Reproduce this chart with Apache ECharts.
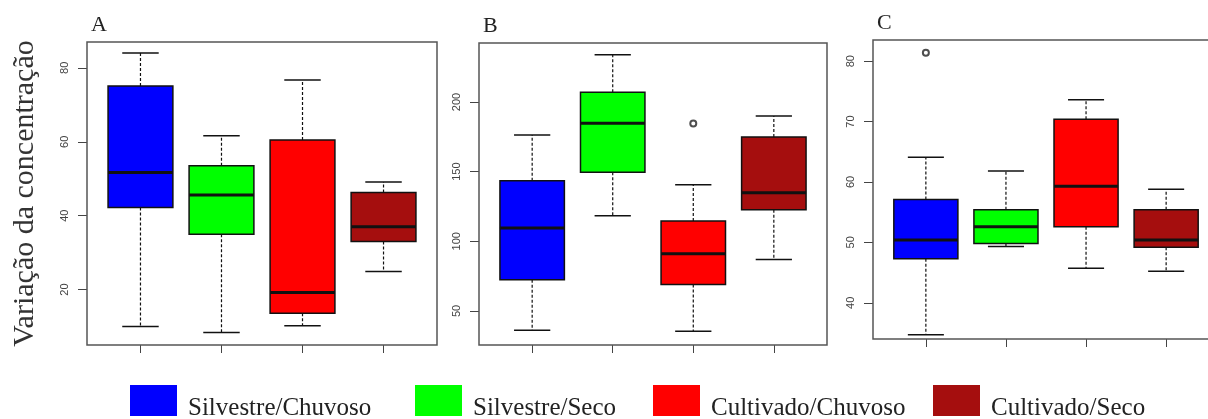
<!DOCTYPE html>
<html><head><meta charset="utf-8">
<script src="https://cdn.jsdelivr.net/npm/echarts@6/dist/echarts.min.js"></script>
<style>html,body{margin:0;padding:0;background:#fff}#c{width:1208px;height:419px}</style>
</head><body><div id="c"></div>
<script>
// ---- data (five-number summaries: [min, Q1, median, Q3, max]) ----
const groups = ['Silvestre/Chuvoso', 'Silvestre/Seco', 'Cultivado/Chuvoso', 'Cultivado/Seco'];
const colors = ['#0000FF', '#00FF00', '#FF0000', '#A50E0E'];
const panelLabels = ['A', 'B', 'C'];

const boxA = [
  [10.0, 42.2, 51.7, 75.1, 84.0],
  [8.4, 35.0, 45.6, 53.5, 61.6],
  [10.2, 13.6, 19.2, 60.5, 76.7],
  [24.9, 33.0, 37.0, 46.3, 49.1]
];
const boxB = [
  [36.2, 72.4, 109.6, 143.4, 176.2],
  [118.4, 149.6, 184.8, 206.9, 233.8],
  [35.5, 69.1, 91.0, 114.5, 140.5],
  [86.9, 122.6, 134.8, 174.8, 190.0]
];
const boxC = [
  [34.7, 47.3, 50.4, 57.1, 64.1],
  [49.3, 49.8, 52.6, 55.4, 61.8],
  [45.7, 52.6, 59.3, 70.4, 73.6],
  [45.2, 49.2, 50.4, 55.4, 58.8]
];
// outliers: [group index, value]
const outliersA = [];
const outliersB = [[2, 184.6]];
const outliersC = [[0, 81.4]];

const ticksA = [20, 40, 60, 80];
const ticksB = [50, 100, 150, 200];
const ticksC = [40, 50, 60, 70, 80];

const rangeA = [5.0, 87.0];
const rangeB = [25.6, 242.3];
const rangeC = [34.0, 83.5];

// ---- layout ----
const panels = [
  { box: boxA, out: outliersA, ticks: ticksA, range: rangeA, frame: { x: 87, y: 42, w: 350, h: 303 } },
  { box: boxB, out: outliersB, ticks: ticksB, range: rangeB, frame: { x: 479, y: 43, w: 348, h: 302 } },
  { box: boxC, out: outliersC, ticks: ticksC, range: rangeC, frame: { x: 873, y: 40, w: 346, h: 299 } }
];
const PAD_FRAC = 0.16 / 4.32; // R-style 4% axis expansion around 0.5..4.5

function renderBox(params, api) {
  const x = api.value(0);
  const p = [1, 2, 3, 4, 5].map(i => api.coord([x, api.value(i)]));
  const [mn, q1, md, q3, mx] = p;
  const band = api.size([1, 0])[0];
  const cx = mn[0];
  const hb = band * 0.4, hc = band * 0.225;
  const color = api.visual('color');
  const dash = { stroke: '#111', lineWidth: 1.2, lineDash: [3, 2] };
  const solid = { stroke: '#111', lineWidth: 1.5 };
  return {
    type: 'group',
    children: [
      { type: 'line', shape: { x1: cx, y1: q3[1], x2: cx, y2: mx[1] }, style: dash },
      { type: 'line', shape: { x1: cx, y1: q1[1], x2: cx, y2: mn[1] }, style: dash },
      { type: 'line', shape: { x1: cx - hc, y1: mx[1], x2: cx + hc, y2: mx[1] }, style: solid },
      { type: 'line', shape: { x1: cx - hc, y1: mn[1], x2: cx + hc, y2: mn[1] }, style: solid },
      { type: 'rect', shape: { x: cx - hb, y: q3[1], width: 2 * hb, height: q1[1] - q3[1] },
        style: { fill: color, stroke: '#111', lineWidth: 1.5 } },
      { type: 'line', shape: { x1: cx - hb, y1: md[1], x2: cx + hb, y2: md[1] },
        style: { stroke: '#111', lineWidth: 3 } }
    ]
  };
}

const grid = [], xAxis = [], yAxis = [], series = [], title = [], graphic = [];
panels.forEach((pn, pi) => {
  const f = pn.frame;
  const pad = f.w * PAD_FRAC;
  grid.push({ left: f.x + pad, top: f.y, width: f.w - 2 * pad, height: f.h });
  xAxis.push({
    type: 'category', gridIndex: pi, data: groups, boundaryGap: true,
    axisLine: { show: false },
    axisTick: { show: true, alignWithLabel: true, interval: 0, length: 8, lineStyle: { color: '#444', width: 1 } },
    axisLabel: { show: false, interval: 0 }, splitLine: { show: false }
  });
  const y = {
    type: 'value', gridIndex: pi, min: pn.range[0], max: pn.range[1], offset: pad,
    axisLine: { show: false },
    axisTick: { show: true, length: 9, customValues: pn.ticks, lineStyle: { color: '#444', width: 1 } },
    axisLabel: { rotate: 90, margin: 17, customValues: pn.ticks, color: '#444', fontSize: 11,
      fontFamily: 'Liberation Sans' },
    splitLine: { show: false }
  };
  if (pi === 0) {
    Object.assign(y, {
      name: 'Variação da concentração', nameLocation: 'middle', nameGap: 47, nameRotate: 90,
      nameTextStyle: { fontFamily: 'Liberation Serif', fontSize: 30, color: '#333' }
    });
  }
  yAxis.push(y);
  pn.box.forEach((b, gi) => {
    series.push({
      type: 'custom', name: groups[gi], xAxisIndex: pi, yAxisIndex: pi,
      itemStyle: { color: colors[gi] },
      data: [[gi].concat(b)],
      encode: { x: 0, y: [1, 2, 3, 4, 5] },
      renderItem: renderBox
    });
  });
  if (pn.out.length) {
    series.push({
      type: 'scatter', name: 'outliers' + pi, xAxisIndex: pi, yAxisIndex: pi,
      symbol: 'emptyCircle', symbolSize: 6,
      itemStyle: { color: '#222', borderColor: '#222', borderWidth: 1 },
      data: pn.out
    });
  }
  title.push({
    text: panelLabels[pi], left: f.x + 4, top: f.y - 28, padding: 0,
    textStyle: { fontFamily: 'Liberation Serif', fontSize: 22, fontWeight: 'normal', color: '#222' }
  });
  graphic.push({
    type: 'rect', z: 50, silent: true,
    shape: { x: f.x, y: f.y, width: f.w, height: f.h },
    style: { fill: 'none', stroke: '#555', lineWidth: 1.5 }
  });
});

const legendLefts = [130, 415, 653, 933];
const legend = groups.map((g, i) => ({
  data: [g], left: legendLefts[i], top: 385, padding: 0,
  icon: 'rect', itemWidth: 47, itemHeight: 31,
  selectedMode: false,
  formatter: '{t|{name}}',
  textStyle: {
    fontFamily: 'Liberation Serif', fontSize: 25, color: '#222',
    rich: { t: { fontFamily: 'Liberation Serif', fontSize: 25, color: '#222', padding: [16, 0, 0, 6] } }
  }
}));

const chart = echarts.init(document.getElementById('c'), null, { renderer: 'canvas' });
chart.setOption({
  backgroundColor: '#fff',
  animation: false,
  title, grid, xAxis, yAxis, series, legend, graphic
});
</script>
</body></html>
